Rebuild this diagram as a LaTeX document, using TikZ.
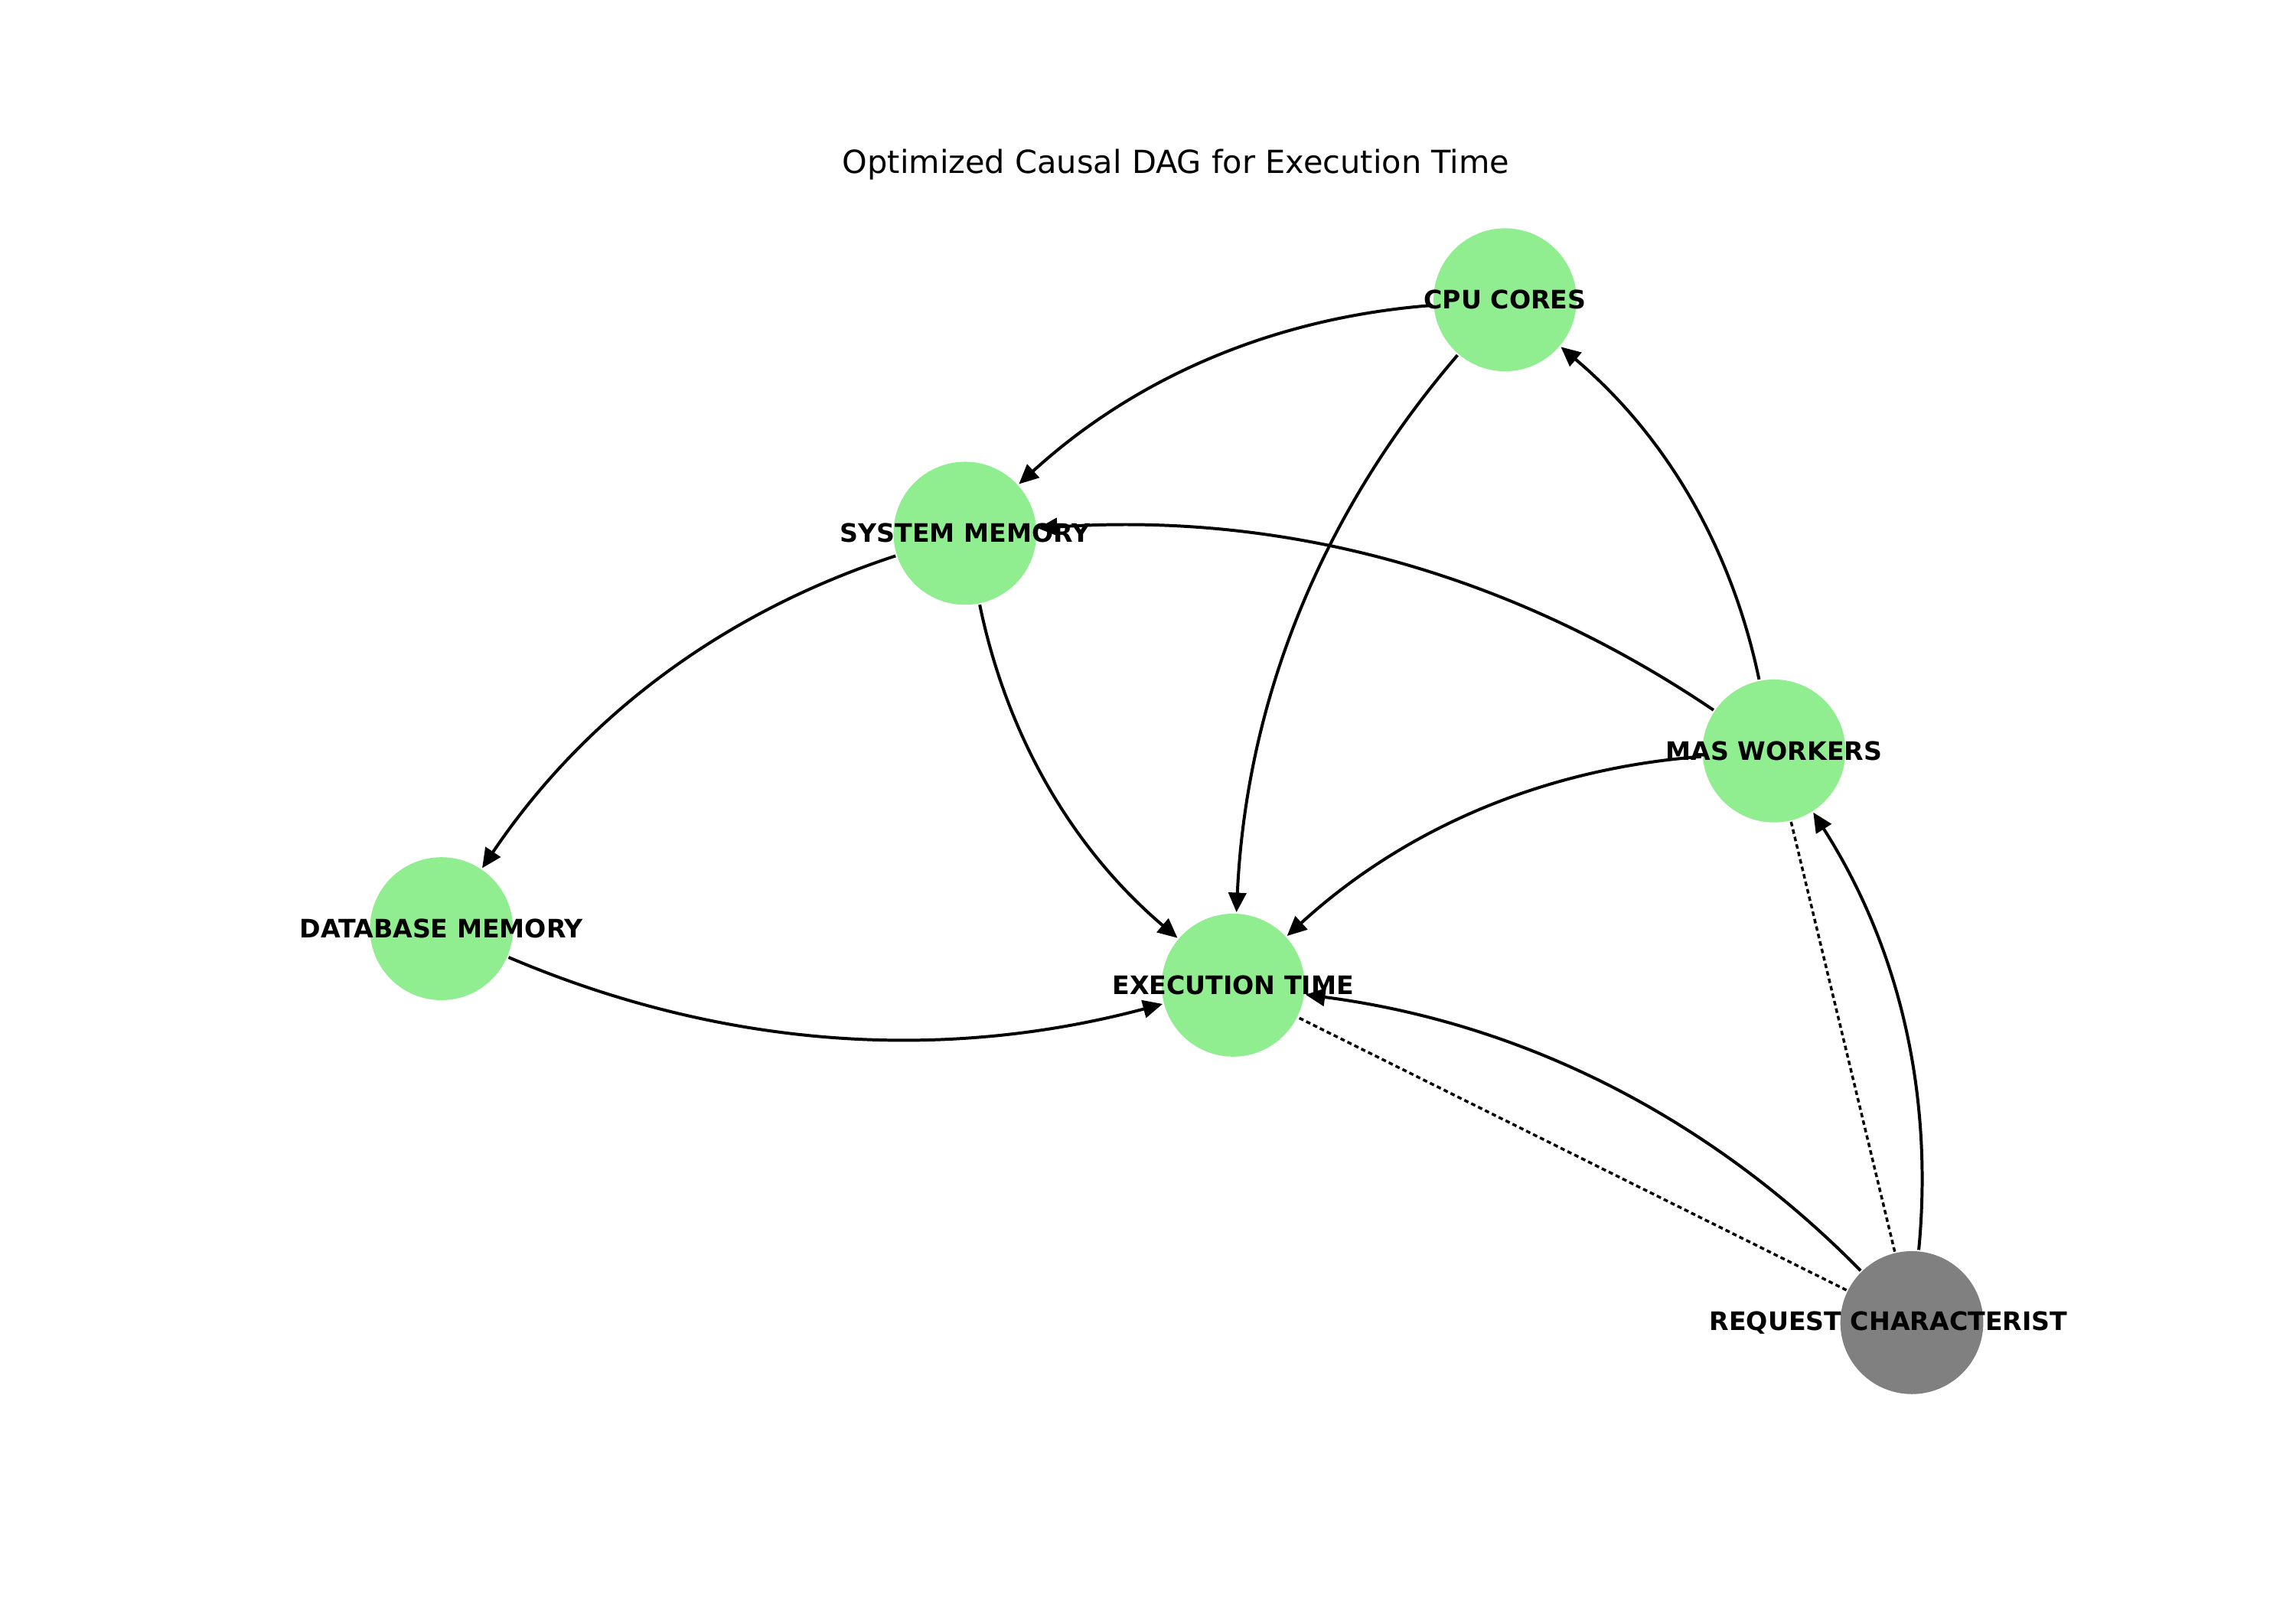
\documentclass[tikz,border=0pt]{standalone}
\usepackage{fontspec}
\setmainfont{DejaVu Sans}
\usetikzlibrary{arrows.meta}
\definecolor{lightgreen}{HTML}{90EE90}
\definecolor{confgray}{HTML}{808080}
\begin{document}
\begin{tikzpicture}[>={Triangle[length=7.4pt, width=6.7pt]}, line width=1.15pt]
    \tikzstyle{var} = [circle, fill=lightgreen, minimum size=54pt, inner sep=0pt]
    \tikzstyle{confounder} = [circle, fill=confgray, minimum size=54pt, inner sep=0pt]
    \tikzstyle{varname} = [font=\bfseries\fontsize{9.6}{11}\selectfont, inner sep=0pt]
    \tikzstyle{edge} = [->, bend right=19, looseness=0.9]
    \tikzstyle{latent} = [line width=1pt, dash pattern=on 1.7pt off 1.2pt]
    \useasboundingbox (0,0) rectangle (30.48,-21.336);
    \node (title) [anchor=base, font=\fontsize{12}{14}\selectfont] at (15.61,-2.30) {Optimized Causal DAG for Execution Time};

    \node (cpu) [var] at (19.98,-3.98) {};
    \node (sysmem) [var] at (12.81,-7.08) {};
    \node (mas) [var] at (23.55,-9.97) {};
    \node (dbmem) [var] at (5.86,-12.33) {};
    \node (exec) [var] at (16.37,-13.08) {};
    \node (req) [confounder] at (25.38,-17.56) {};

    \draw [edge] (cpu) to (sysmem);
    \draw [edge] (cpu) to (exec);
    \draw [edge] (mas) to (cpu);
    \draw [edge] (mas) to (sysmem);
    \draw [edge] (mas) to (exec);
    \draw [edge] (sysmem) to (dbmem);
    \draw [edge] (sysmem) to (exec);
    \draw [edge] (dbmem) to (exec);
    \draw [edge] (req) to (exec);
    \draw [edge] (req) to (mas);
    % unobserved confounding, no direction
    \draw [latent] (req) -- (exec);
    \draw [latent] (req) -- (mas);

    % labels go on top of the edges
    \node (cpulabel) [varname] at (cpu) {CPU CORES};
    \node (sysmemlabel) [varname] at (sysmem) {SYSTEM MEMORY};
    \node (maslabel) [varname] at (mas) {MAS WORKERS};
    \node (dbmemlabel) [varname] at (dbmem) {DATABASE MEMORY};
    \node (execlabel) [varname] at (exec) {EXECUTION TIME};
    \node (reqlabel) [varname, xshift=-0.31cm] at (req) {REQUEST CHARACTERIST};
\end{tikzpicture}
\end{document}
